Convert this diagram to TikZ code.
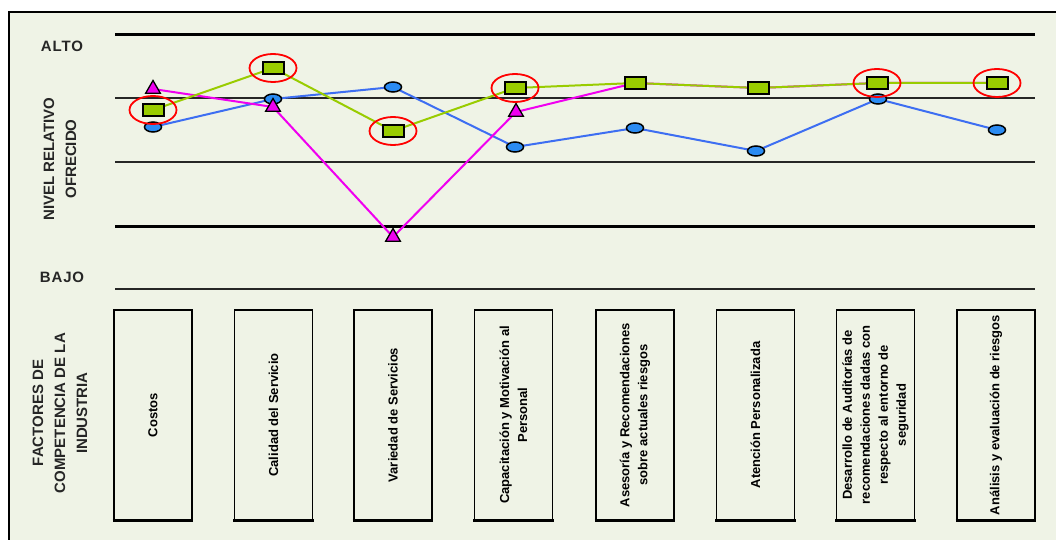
\documentclass[tikz,border=0pt]{standalone}
\usepackage{fontspec}
\setmainfont{Liberation Sans}
\usetikzlibrary{shapes.geometric}
\definecolor{bgc}{HTML}{EFF3E6}
\definecolor{serblue}{HTML}{3D6EF2}
\definecolor{markblue}{HTML}{2B8BF2}
\definecolor{sergreen}{HTML}{99CC00}
\definecolor{sermag}{HTML}{F000F0}
\definecolor{labc}{HTML}{262626}
\begin{document}
\begin{tikzpicture}[x=1pt,y=-1pt,
  lab/.style={font=\fontsize{15}{22}\selectfont\bfseries, text=labc, align=center, inner sep=0pt},
  fbox/.style={draw=black, line width=1.4pt, minimum width=78pt, minimum height=210pt, inner sep=0pt},
  ftext/.style={rotate=90, font=\fontsize{13}{18}\selectfont\bfseries, align=center, inner sep=0pt},
  thickgrid/.style={line width=3pt, black},
  thingrid/.style={line width=1.4pt, black!85},
  bline/.style={serblue, line width=2pt},
  gline/.style={sergreen, line width=2pt},
  mline/.style={sermag, line width=2pt},
  bmark/.style={ellipse, draw=black, fill=markblue, line width=1.5pt, minimum width=17pt, minimum height=10pt, inner sep=0pt},
  gmark/.style={rectangle, draw=black, fill=sergreen, line width=2pt, minimum width=21pt, minimum height=12pt, inner sep=0pt},
  mmark/.style={regular polygon, regular polygon sides=3, draw=black, fill=sermag, line width=1.3pt, minimum size=17pt, inner sep=0pt},
  hilite/.style={ellipse, draw=red, line width=1.8pt, minimum width=47pt, minimum height=28pt, inner sep=0pt}
]
\useasboundingbox (0,0) rectangle (1056,540);
\fill[white] (0,0) rectangle (1056,540);
\fill[bgc] (9,12) rectangle (1056,540);
\draw[line width=2.5pt, black] (9,545) -- (9,12) -- (1060,12);

% grid
\coordinate (g1a) at (115,35);  \coordinate (g1b) at (1035,35);
\coordinate (g2a) at (115,98);  \coordinate (g2b) at (1035,98);
\coordinate (g3a) at (115,162); \coordinate (g3b) at (1035,162);
\coordinate (g4a) at (115,226); \coordinate (g4b) at (1035,226);
\coordinate (g5a) at (115,289); \coordinate (g5b) at (1035,289);
\draw[thickgrid] (g1a) -- (g1b);
\draw[thingrid] (g2a) -- (g2b);
\draw[thingrid] (g3a) -- (g3b);
\draw[thickgrid] (g4a) -- (g4b);
\draw[thingrid] (g5a) -- (g5b);

% labels
\node[lab] (alto) at (62,46) {\addfontfeatures{LetterSpace=6}ALTO};
\node[lab] (bajo) at (62,277) {\addfontfeatures{LetterSpace=6}BAJO};
\node[lab, rotate=90] (nivel) at (60,159) {NIVEL RELATIVO\\OFRECIDO};
\node[lab, rotate=90] (fact) at (60,413) {FACTORES DE\\COMPETENCIA DE LA\\INDUSTRIA};

% factor boxes
\foreach \i/\x in {1/153,2/273.5,3/393,4/513.5,5/635,6/755.5,7/875.5,8/996}{
  \node[fbox] (box\i) at (\x,415) {};
  \draw[line width=3pt] ([xshift=-0.7pt]box\i.south west) -- ([xshift=0.7pt]box\i.south east);
}
\node[ftext] (t1) at (box1) {Costos};
\node[ftext] (t2) at (box2) {Calidad del Servicio};
\node[ftext] (t3) at (box3) {Variedad de Servicios};
\node[ftext] (t4) at (box4) {Capacitación y Motivación al\\Personal};
\node[ftext] (t5) at (box5) {Asesoría y Recomendaciones\\sobre actuales riesgos};
\node[ftext] (t6) at (box6) {Atención Personalizada};
\node[ftext] (t7) at (box7) {Desarrollo de Auditorías de\\recomendaciones dadas con\\respecto al entorno de\\seguridad};
\node[ftext] (t8) at (box8) {Análisis y evaluación de riesgos};

% data coordinates
\coordinate (b1) at (153,127);
\coordinate (b2) at (273,99);
\coordinate (b3) at (393,87);
\coordinate (b4) at (515,147);
\coordinate (b5) at (635,128);
\coordinate (b6) at (756,151);
\coordinate (b7) at (878,99);
\coordinate (b8) at (997,130);

\coordinate (m1) at (153,89);
\coordinate (m2) at (273,107);
\coordinate (m3) at (393,237);
\coordinate (m4) at (516,112);
\coordinate (m5) at (635,83);
\coordinate (m6) at (758,88);
\coordinate (m7) at (877,83);
\coordinate (m8) at (997,83);

\coordinate (q1) at (153,110);
\coordinate (q2) at (273,68);
\coordinate (q3) at (393,131);
\coordinate (q4) at (515,88);
\coordinate (q5) at (635,83);
\coordinate (q6) at (758,88);
\coordinate (q7) at (877,83);
\coordinate (q8) at (997,83);

% series lines
\draw[bline] (b1) -- (b2) -- (b3) -- (b4) -- (b5) -- (b6) -- (b7) -- (b8);
\draw[mline] (m1) -- (m2) -- (m3) -- (m4) -- (m5) -- (m6) -- (m7) -- (m8);
\draw[gline] (q1) -- (q2) -- (q3) -- (q4) -- (q5) -- (q6) -- (q7) -- (q8);

% markers
\foreach \i in {1,...,8}{ \node[bmark] (bm\i) at (b\i) {}; }
\foreach \i in {1,...,4}{ \node[mmark] (mm\i) at (m\i) {}; }
\foreach \i in {1,...,8}{ \node[gmark] (qm\i) at (q\i) {}; }

% highlights
\foreach \i in {1,2,3,4,7,8}{ \node[hilite] (h\i) at (q\i) {}; }
\end{tikzpicture}
\end{document}
